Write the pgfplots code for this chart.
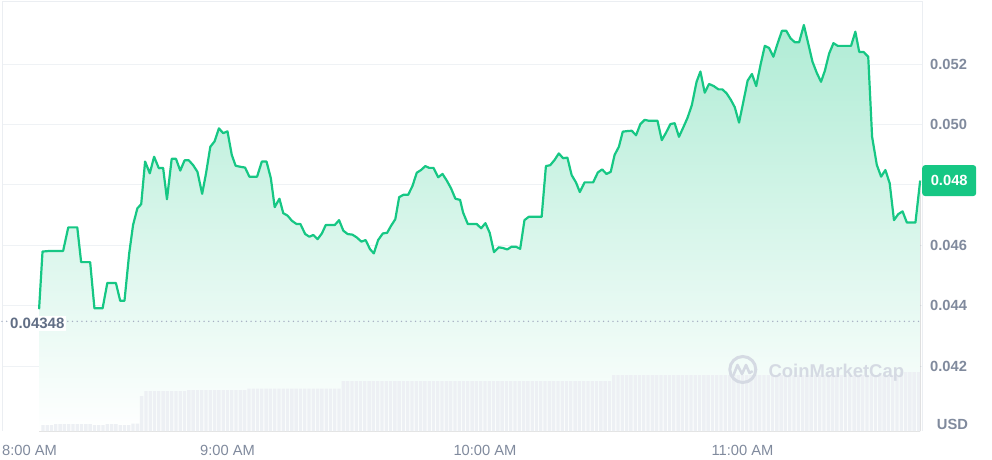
\documentclass[border=0pt]{standalone}
\usepackage{pgfplots}
\pgfplotsset{compat=1.18}
\usepackage{pgfplotstable}
\usepgfplotslibrary{fillbetween}
\usepackage{fontspec}
\setmainfont{Liberation Sans}
\definecolor{cmcgreen}{HTML}{16C784}
\definecolor{lblgray}{HTML}{808A9D}
\definecolor{refgray}{HTML}{616E85}
\definecolor{gridgray}{HTML}{EFF2F5}
\definecolor{framegray}{HTML}{EBEEF2}
\definecolor{volgray}{HTML}{EDF0F4}
\definecolor{wmgray}{HTML}{D5DAE3}
\definecolor{dotgray}{HTML}{A6B0C3}

% minutes after 8:00 AM, price in USD
\pgfplotstableread{
min price
16.1 0.04388
16.9 0.04579
18.6 0.04581
21.7 0.04581
22.9 0.04659
25.0 0.04659
25.9 0.04544
28.0 0.04544
29.0 0.04391
30.9 0.04391
32.0 0.04475
34.0 0.04475
35.0 0.04416
36.0 0.04416
37.1 0.04573
38.0 0.04667
39.0 0.04722
39.9 0.04736
40.8 0.04877
41.9 0.04838
42.9 0.04893
44.0 0.04855
45.0 0.04856
45.9 0.04752
47.0 0.04886
48.0 0.04886
49.0 0.04847
50.0 0.04881
51.0 0.04881
52.0 0.04865
53.0 0.04843
54.1 0.04770
55.0 0.04838
56.0 0.04926
57.0 0.04944
58.0 0.04987
59.0 0.04971
60.0 0.04977
61.0 0.04899
61.9 0.04863
62.9 0.04860
64.1 0.04857
65.1 0.04827
66.9 0.04827
68.0 0.04877
69.1 0.04877
70.1 0.04822
71.0 0.04726
72.1 0.04754
73.0 0.04706
74.0 0.04698
75.0 0.04681
76.1 0.04670
77.0 0.04670
78.1 0.04637
79.1 0.04628
80.0 0.04634
81.0 0.04620
82.0 0.04639
82.9 0.04667
84.0 0.04667
85.0 0.04667
86.0 0.04683
87.0 0.04648
88.0 0.04637
89.1 0.04635
90.1 0.04626
91.2 0.04612
92.2 0.04617
93.2 0.04587
94.1 0.04573
95.1 0.04617
96.2 0.04639
97.2 0.04641
98.1 0.04664
99.1 0.04686
100.0 0.04759
101.0 0.04767
102.1 0.04767
103.1 0.04796
104.1 0.04840
105.1 0.04849
106.1 0.04862
107.0 0.04856
108.0 0.04856
109.1 0.04825
110.1 0.04836
111.1 0.04814
112.1 0.04788
113.1 0.04754
114.2 0.04750
114.9 0.04708
116.0 0.04670
117.0 0.04670
118.1 0.04670
119.1 0.04656
120.1 0.04673
121.1 0.04641
122.1 0.04577
123.2 0.04593
124.1 0.04591
125.2 0.04586
126.2 0.04595
127.2 0.04595
128.2 0.04588
129.2 0.04683
130.2 0.04694
131.3 0.04694
132.2 0.04694
133.2 0.04694
134.2 0.04862
135.2 0.04865
136.2 0.04882
137.2 0.04904
138.2 0.04888
139.2 0.04890
140.2 0.04832
141.2 0.04808
142.1 0.04776
143.2 0.04808
144.2 0.04808
145.2 0.04808
146.3 0.04841
147.3 0.04851
148.3 0.04836
149.3 0.04843
150.2 0.04899
151.2 0.04926
152.1 0.04976
153.2 0.04978
154.2 0.04979
155.2 0.04964
156.2 0.05001
157.2 0.05015
158.2 0.05012
159.2 0.05012
160.2 0.05012
161.2 0.04948
162.2 0.04973
163.2 0.05001
164.2 0.05004
165.2 0.04959
166.2 0.04990
167.2 0.05022
168.2 0.05064
169.3 0.05141
170.2 0.05175
171.2 0.05105
172.2 0.05134
173.3 0.05127
174.4 0.05116
175.3 0.05116
176.3 0.05103
177.3 0.05081
178.2 0.05057
179.2 0.05006
180.2 0.05075
181.2 0.05145
182.2 0.05167
183.2 0.05127
184.2 0.05197
185.2 0.05260
186.2 0.05253
187.2 0.05224
188.2 0.05269
189.2 0.05310
190.2 0.05310
191.2 0.05285
192.2 0.05272
193.2 0.05272
194.3 0.05329
195.3 0.05269
196.3 0.05208
197.3 0.05171
198.3 0.05141
199.2 0.05178
200.2 0.05235
201.2 0.05269
202.2 0.05260
203.3 0.05260
204.3 0.05260
205.3 0.05260
206.3 0.05307
207.2 0.05240
208.2 0.05240
209.3 0.05224
210.2 0.04959
211.3 0.04866
212.3 0.04827
213.3 0.04849
214.3 0.04805
215.3 0.04683
216.3 0.04703
217.3 0.04712
218.3 0.04675
219.3 0.04675
220.3 0.04675
221.4 0.04814
}\pricetable

\newcommand\ticklbl{\fontsize{14.7}{16}\selectfont}

\begin{document}
\begin{tikzpicture}
\begin{axis}[
  name=main,
  at={(0pt,0pt)}, anchor=south west,
  scale only axis, width=920pt, height=429pt,
  xmin=7.46, xmax=221.83, ymin=0.039848, ymax=0.054053,
  scaled x ticks=false, scaled y ticks=false,
  axis line style={draw=none},
  major tick length=0pt, tick style={draw=none},
  xtick={60,120,180}, xticklabels={9:00 AM,10:00 AM,11:00 AM},
  ytick={0.042,0.044,0.046,0.048,0.050,0.052},
  yticklabels={0.042,0.044,0.046,{},0.050,0.052},
  yticklabel pos=right,
  ymajorgrids, grid style={gridgray, line width=1pt},
  x tick label style={font=\ticklbl, text=lblgray, anchor=base, inner sep=0pt, yshift=-24pt},
  y tick label style={font=\ticklbl\bfseries, text=lblgray, anchor=west, inner sep=0pt, xshift=8pt},
  clip=false,
]
\draw[framegray, line width=1pt] (rel axis cs:0,0) -- (rel axis cs:0,1) -- (rel axis cs:1,1) -- (rel axis cs:1,0);
\addplot[name path=price, draw=none, forget plot] table[x=min, y=price] {\pricetable};
\addplot[name path=base, draw=none, forget plot] coordinates {(16.1,0.039848) (221.4,0.039848)};
\addplot[draw=none, top color=cmcgreen!34!white, bottom color=white] fill between[of=price and base];
% opening reference price
\addplot[dotgray, line width=1.6pt, dash pattern=on 0pt off 4.7pt, line cap=round] coordinates {(7.46,0.04348) (221.83,0.04348)};
\node[anchor=base west, fill=white, inner sep=2pt, text=refgray, font=\fontsize{15}{17}\selectfont\bfseries]
  at ([xshift=6pt, yshift=-7.6pt]axis cs:7.46,0.04348) {0.04348};
\addplot[cmcgreen, line width=2.2pt, line join=round] table[x=min, y=price] {\pricetable};
\node[anchor=west, fill=cmcgreen, text=white, rounded corners=3pt, minimum width=54pt, minimum height=31pt, inner sep=0pt, font=\ticklbl\bfseries]
  at (axis cs:221.83,0.04814) {0.048};
\node[anchor=base west, inner sep=0pt, text=lblgray, font=\ticklbl] at ([yshift=-24pt]rel axis cs:0,0) {8:00 AM};
\node[anchor=base west, inner sep=0pt, text=lblgray, font=\ticklbl\bfseries] at ([xshift=14.7pt, yshift=1.7pt]rel axis cs:1,0) {USD};
\end{axis}

% volume (relative bar heights)
\begin{axis}[
  at={(0pt,0pt)}, anchor=south west,
  scale only axis, width=920pt, height=429pt,
  xmin=7.46, xmax=221.83, ymin=0, ymax=429,
  scaled x ticks=false, scaled y ticks=false,
  hide axis,
]
\addplot[ybar, bar width=0.78, fill=volgray, draw=none] coordinates {
(17,6)(18,6)(19,6)
(20,7)(21,7)(22,7)(23,7)(24,7)(25,7)(26,7)(27,7)(28,7)
(29,6)(30,6)(31,6)(32,7)(33,7)(34,7)(35,6)(36,6)(37,6)(38,7.5)(39,7.5)
(40,35)
(41,40)(42,40)(43,40)(44,40)(45,40)(46,40)(47,40)(48,40)(49,40)(50,40)
(51,41)(52,41)(53,41)(54,41)(55,41)(56,41)(57,41)(58,41)(59,41)(60,41)(61,41)(62,41)(63,41)(64,41)
(65,42.5)(66,42.5)(67,42.5)(68,42.5)(69,42.5)(70,42.5)(71,42.5)(72,42.5)(73,42.5)(74,42.5)(75,42.5)
(76,42.5)(77,42.5)(78,42.5)(79,42.5)(80,42.5)(81,42.5)(82,42.5)(83,42.5)(84,42.5)(85,42.5)(86,42.5)
(87,50)(88,50)(89,50)(90,50)(91,50)(92,50)(93,50)(94,50)(95,50)(96,50)(97,50)(98,50)(99,50)(100,50)
(101,50)(102,50)(103,50)(104,50)(105,50)(106,50)(107,50)(108,50)(109,50)(110,50)(111,50)(112,50)
(113,50)(114,50)(115,50)(116,50)(117,50)(118,50)(119,50)(120,50)(121,50)(122,50)(123,50)(124,50)
(125,50)(126,50)(127,50)(128,50)(129,50)(130,50)(131,50)(132,50)(133,50)(134,50)(135,50)(136,50)
(137,50)(138,50)(139,50)(140,50)(141,50)(142,50)(143,50)(144,50)(145,50)(146,50)(147,50)(148,50)(149,50)
(150,56)(151,56)(152,56)(153,56)(154,56)(155,56)(156,56)(157,56)(158,56)(159,56)(160,56)(161,56)
(162,56)(163,56)(164,56)(165,56)(166,56)(167,56)(168,56)(169,56)(170,56)(171,56)(172,56)(173,56)
(174,56)(175,56)(176,56)(177,56)(178,56)(179,56)(180,56)(181,56)(182,56)(183,56)(184,56)(185,56)
(186,56)(187,56)(188,56)(189,56)(190,56)(191,56)(192,56)(193,56)(194,56)(195,56)(196,56)(197,56)
(198,56)(199,56)(200,56)(201,56)(202,56)(203,56)(204,56)(205,56)(206,56)(207,56)(208,56)(209,56)
(210,56)(211,56)(212,56)(213,56)(214,56)(215,56)(216,56)
(217,59)(218,59)(219,59)(220,59)(221,59)
};
\end{axis}

% watermark
\draw[wmgray, line width=3pt] (740.8pt,61.5pt) circle (13pt);
\draw[wmgray, line width=2.6pt, line join=round, line cap=round]
  (731.5pt,56pt) -- (735.5pt,66pt) -- (740pt,57pt) -- (744pt,66pt) -- (747.5pt,58pt) -- (750pt,59.5pt);
\node[anchor=base west, inner sep=0pt, text=wmgray, font=\fontsize{18.5}{20}\selectfont\bfseries] at (766.3pt,53.7pt) {CoinMarketCap};
\pgfresetboundingbox
\useasboundingbox (-2pt,-28pt) rectangle (990pt,431pt);
\end{tikzpicture}
\end{document}
